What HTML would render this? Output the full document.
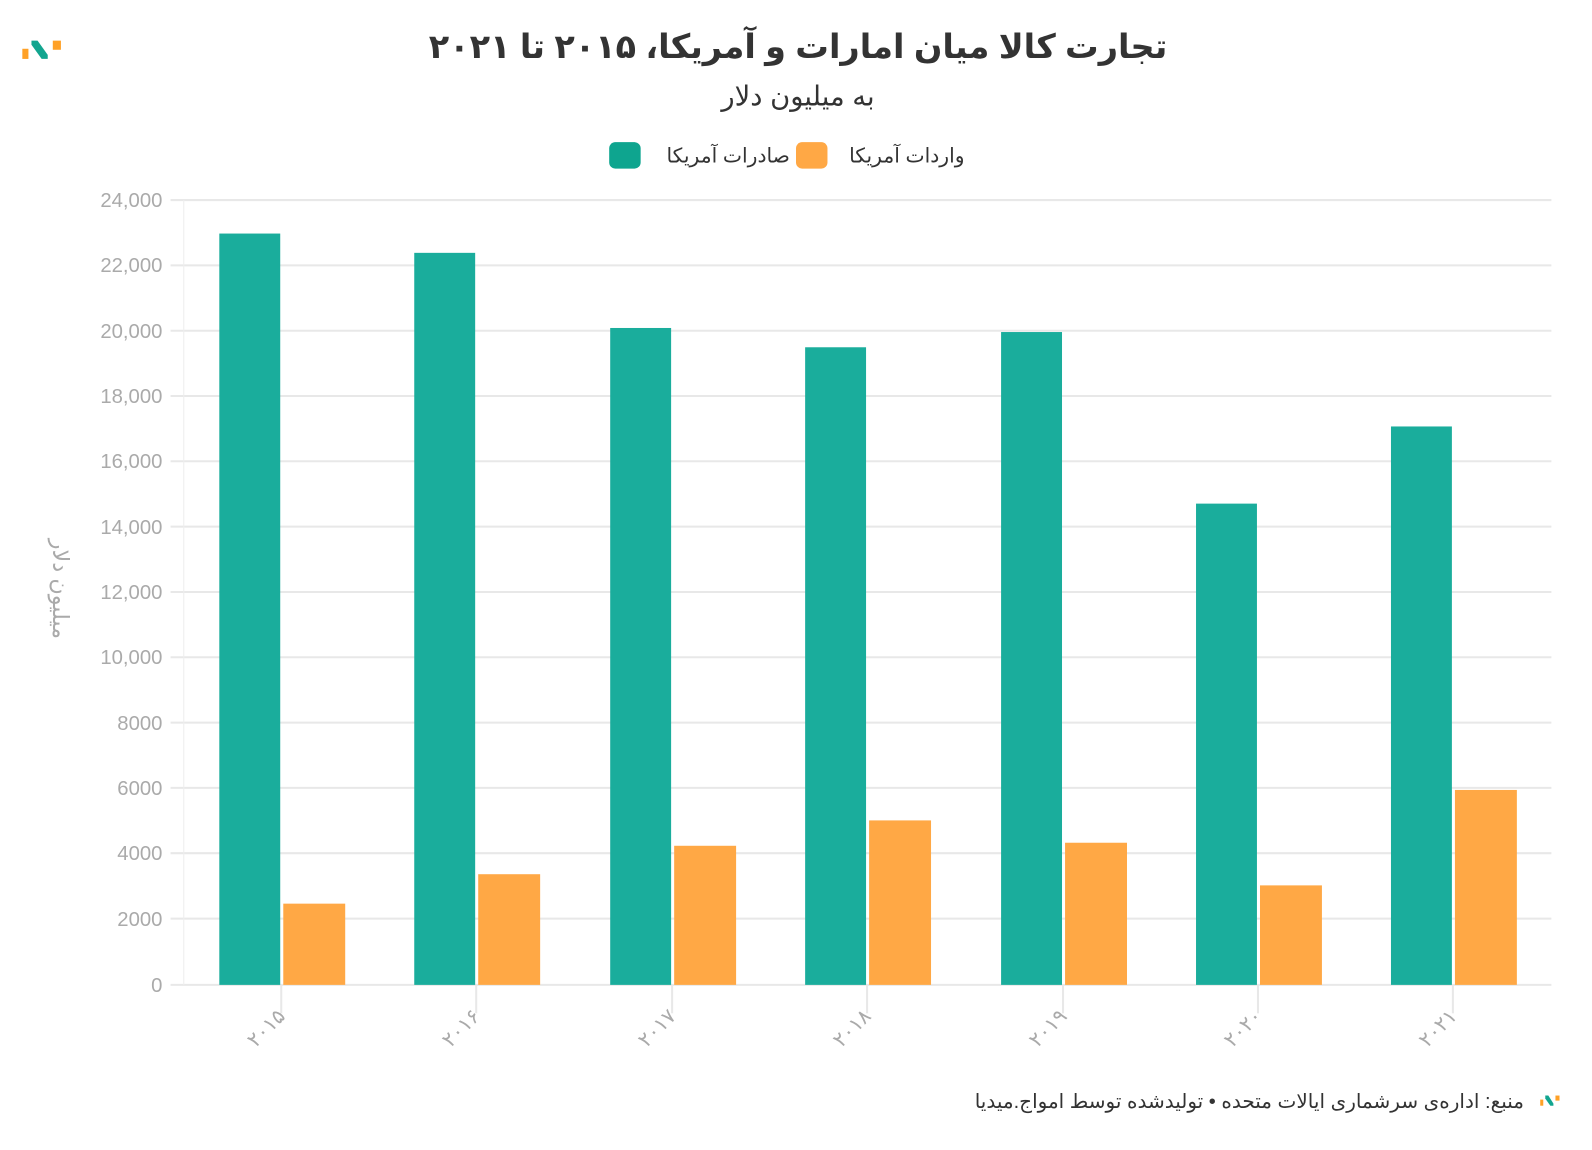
<!DOCTYPE html>
<html><head><meta charset="utf-8"><style>
html,body{margin:0;padding:0;background:#fff;}
svg text{font-family:"Liberation Sans","DejaVu Sans",sans-serif;}
#foot{position:absolute;right:68px;top:1090px;font-family:"Liberation Sans","DejaVu Sans",sans-serif;font-size:20px;color:#333;direction:rtl;white-space:nowrap;line-height:24px;}
</style></head><body>
<svg width="1592" height="1150" viewBox="0 0 1568 1132.6" xmlns="http://www.w3.org/2000/svg" style="position:absolute;left:0;top:0">
<rect width="1568" height="1133" fill="#fff"/>
<rect x="22" y="48" width="6" height="10" fill="#ffa126"/>
<polygon points="31,40 37,40 47,54 47,58 41,58 31,44" fill="#12a58f"/>
<rect x="52" y="40" width="8" height="9" fill="#ffa126"/>
<text x="786" y="57" text-anchor="middle" font-size="33" font-weight="bold" fill="#333">تجارت کالا میان امارات و آمریکا، ۲۰۱۵ تا ۲۰۲۱</text>
<text x="786" y="104" text-anchor="middle" font-size="27" fill="#333">به میلیون دلار</text>
<rect x="784" y="140" width="31" height="26" rx="6" fill="#ffa845"/>
<text x="950" y="160" text-anchor="end" font-size="20" fill="#333">واردات آمریکا</text>
<rect x="600" y="140" width="31" height="26" rx="6" fill="#0ea58f"/>
<text x="778" y="160" text-anchor="end" font-size="20" fill="#333">صادرات آمریکا</text>
<g stroke="#e8e8e8" stroke-width="2">
<line x1="168" y1="197" x2="1528" y2="197"/>
<line x1="168" y1="261.3" x2="1528" y2="261.3"/>
<line x1="168" y1="325.7" x2="1528" y2="325.7"/>
<line x1="168" y1="390" x2="1528" y2="390"/>
<line x1="168" y1="454.3" x2="1528" y2="454.3"/>
<line x1="168" y1="518.7" x2="1528" y2="518.7"/>
<line x1="168" y1="583" x2="1528" y2="583"/>
<line x1="168" y1="647.3" x2="1528" y2="647.3"/>
<line x1="168" y1="711.7" x2="1528" y2="711.7"/>
<line x1="168" y1="776" x2="1528" y2="776"/>
<line x1="168" y1="840.3" x2="1528" y2="840.3"/>
<line x1="168" y1="904.7" x2="1528" y2="904.7"/>
<line x1="168" y1="970" x2="1528" y2="970"/>
</g>
<line x1="181" y1="197" x2="181" y2="970" stroke="#eee" stroke-width="1"/>
<g stroke="#e8e8e8" stroke-width="2">
<line x1="277" y1="970" x2="277" y2="998"/><line x1="469" y1="970" x2="469" y2="998"/>
<line x1="662" y1="970" x2="662" y2="998"/><line x1="854" y1="970" x2="854" y2="998"/>
<line x1="1047" y1="970" x2="1047" y2="998"/><line x1="1239" y1="970" x2="1239" y2="998"/>
<line x1="1431" y1="970" x2="1431" y2="998"/>
</g>
<g font-size="20" fill="#aaa" text-anchor="end">
<text x="160" y="204">24,000</text><text x="160" y="268">22,000</text><text x="160" y="333">20,000</text>
<text x="160" y="397">18,000</text><text x="160" y="461">16,000</text><text x="160" y="526">14,000</text>
<text x="160" y="590">12,000</text><text x="160" y="654">10,000</text><text x="160" y="719">8000</text>
<text x="160" y="783">6000</text><text x="160" y="847">4000</text><text x="160" y="912">2000</text>
<text x="160" y="977">0</text>
</g>
<text transform="translate(52,580) rotate(90)" text-anchor="middle" font-size="22" fill="#aaa">میلیون دلار</text>
<g fill="#1aad9c">
<rect x="216" y="230" width="60" height="740"/>
<rect x="408" y="249" width="60" height="721"/>
<rect x="601" y="323" width="60" height="647"/>
<rect x="793" y="342" width="60" height="628"/>
<rect x="986" y="327" width="60" height="643"/>
<rect x="1178" y="496" width="60" height="474"/>
<rect x="1370" y="420" width="60" height="550"/>
</g>
<g fill="#ffa845">
<rect x="279" y="890" width="61" height="80"/>
<rect x="471" y="861" width="61" height="109"/>
<rect x="664" y="833" width="61" height="137"/>
<rect x="856" y="808" width="61" height="162"/>
<rect x="1049" y="830" width="61" height="140"/>
<rect x="1241" y="872" width="61" height="98"/>
<rect x="1433" y="778" width="61" height="192"/>
</g>
<g font-size="20" fill="#aaa" text-anchor="end">
<text transform="translate(282,1002) rotate(-45)">۲۰۱۵</text>
<text transform="translate(474,1002) rotate(-45)">۲۰۱۶</text>
<text transform="translate(667,1002) rotate(-45)">۲۰۱۷</text>
<text transform="translate(859,1002) rotate(-45)">۲۰۱۸</text>
<text transform="translate(1052,1002) rotate(-45)">۲۰۱۹</text>
<text transform="translate(1244,1002) rotate(-45)">۲۰۲۰</text>
<text transform="translate(1436,1002) rotate(-45)">۲۰۲۱</text>
</g>
<rect x="1517" y="1083" width="3" height="6" fill="#ffa126"/>
<polygon points="1522,1079 1525,1079 1530,1087 1530,1089 1527,1089 1522,1082" fill="#12a58f"/>
<rect x="1532" y="1079" width="4" height="5" fill="#ffa126"/>
</svg>
<div id="foot">منبع: اداره‌ی سرشماری ایالات متحده • تولیدشده توسط امواج.میدیا</div>
</body></html>
